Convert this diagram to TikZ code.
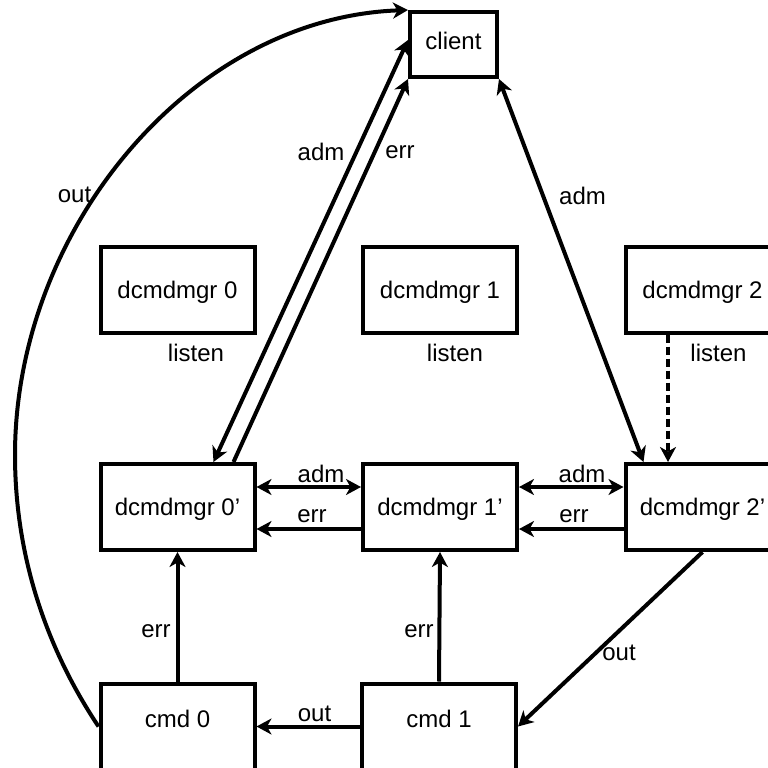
\documentclass[tikz,border=0pt]{standalone}
\usepackage{fontspec}
\setmainfont{Liberation Sans}
\usetikzlibrary{arrows.meta,calc}
\tikzset{
  box/.style={draw, line width=4pt, minimum width=154pt, minimum height=86pt,
    inner sep=0pt, text height=17pt, text depth=0pt, font=\fontsize{24}{28}\selectfont},
  lbl/.style={inner sep=0pt, font=\fontsize{24}{28}\selectfont},
  tip/.tip={Stealth[length=15pt,width=16pt,inset=4.5pt]},
  conn/.style={line width=4pt, -tip},
  bconn/.style={line width=4pt, tip-tip},
  dashconn/.style={line width=4pt, -tip, dash pattern=on 8pt off 4pt},
}
\begin{document}
\begin{tikzpicture}[x=1pt,y=-1pt]
\useasboundingbox (0,0) rectangle (768,768);
\clip (0,0) rectangle (768,768);

% nodes
\node[box, minimum width=87pt, minimum height=65pt, text depth=6pt] (client) at (453.5,44.5) {client\hspace{10pt}};
\node[box] (d0) at (177.5,289.5) {dcmdmgr 0};
\node[box] (d1) at (440,289.5) {dcmdmgr 1};
\node[box] (d2) at (702.5,289.5) {dcmdmgr 2};
\node[box] (d0p) at (177.5,507) {dcmdmgr 0'};
\node[box] (d1p) at (440,507) {dcmdmgr 1'};
\node[box] (d2p) at (702.5,507) {dcmdmgr 2'};
\node[box, text depth=16pt] (c0) at (177.5,726.5) {cmd 0};
\node[box, text depth=16pt] (c1) at (439,726.5) {cmd 1};
\coordinate (lm) at (15,455);

% connectors
\draw[bconn] ($(d0p.east)+(0,-20)$) -- ($(d1p.west)+(0,-20)$);
\draw[conn] ($(d1p.west)+(0,22)$) -- ($(d0p.east)+(0,22)$);
\draw[bconn] ($(d1p.east)+(0,-20)$) -- ($(d2p.west)+(0,-20)$);
\draw[conn] ($(d2p.west)+(0,22)$) -- ($(d1p.east)+(0,22)$);
\draw[dashconn] ($(d2.south)+(-34.5,0)$) -- ($(d2p.north)+(-34.5,0)$);
\draw[bconn] (client.south east) -- ($(d2p.north west)+(20,0)$);
\draw[bconn] ($(d0p.north west)+(115,0)$) -- ($(client.west)+(0,-4.5)$);
\draw[conn] ($(d0p.north west)+(135,0)$) -- (client.south west);
\draw[conn] (c0.west) .. controls (44.9,646) and (15,553.7) .. (lm)
  .. controls (15,230) and (190.2,18) .. (client.north west);
\draw[conn] (c0.north) -- (d0p.south);
\draw[conn] (c1.north) -- (d1p.south);
\draw[conn] (c1.west) -- (c0.east);
\draw[conn] (d2p.south) -- (c1.east);

% labels
\node[lbl] (ls0) at (196,353) {listen};
\node[lbl] (ls1) at (455,353) {listen};
\node[lbl] (ls2) at (718.5,353) {listen};
\node[lbl] (a01) at (321,474) {adm};
\node[lbl] (e01) at (312,516) {err};
\node[lbl] (a12) at (582,474) {adm};
\node[lbl] (e12) at (574,516) {err};
\node[lbl] (ac0) at (321,152) {adm};
\node[lbl] (ec0) at (400,152) {err};
\node[lbl] (ac2) at (582.5,195.5) {adm};
\node[lbl] (oc) at (74.5,195) {out};
\node[lbl] (ec0b) at (156,631.5) {err};
\node[lbl] (ec1b) at (419,631.5) {err};
\node[lbl] (o2) at (619,652.5) {out};
\node[lbl] (o10) at (314.5,714) {out};
\end{tikzpicture}
\end{document}
